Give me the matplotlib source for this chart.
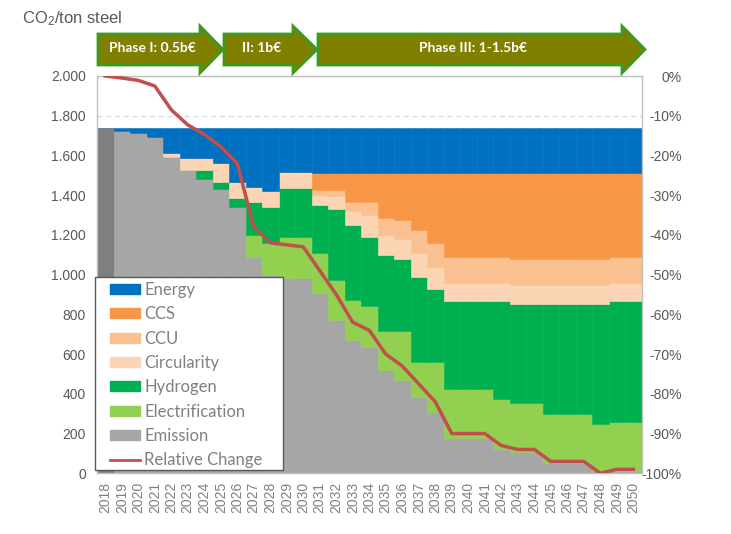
import matplotlib
matplotlib.use("Agg")
import matplotlib.pyplot as plt
import numpy as np
from matplotlib.patches import Polygon, Patch, Rectangle
from matplotlib.lines import Line2D

plt.rcParams["mathtext.default"] = "regular"

years = list(range(2018, 2051))

emission = [1740, 1725, 1715, 1695, 1590, 1527, 1480, 1430, 1339, 1090, 998, 985, 985,
            907, 772, 671, 637, 520, 470, 386, 310, 176, 176, 176, 120, 105, 105,
            50, 50, 50, 10, 10, 10]
electrification = [0, 0, 0, 0, 0, 0, 0, 0, 0, 110, 160, 205, 205,
                   200, 203, 199, 203, 195, 245, 176, 252, 247, 247, 247, 252, 247, 247,
                   248, 248, 248, 238, 250, 250]
hydrogen = [0, 0, 0, 0, 0, 0, 47, 38, 45, 167, 184, 244, 244,
            244, 355, 380, 351, 385, 365, 428, 368, 446, 446, 446, 497, 500, 500,
            554, 554, 554, 604, 609, 609]
circularity = [0, 0, 0, 0, 22, 59, 59, 93, 84, 76, 79, 83, 83,
               49, 65, 70, 109, 100, 100, 120, 110, 91, 91, 91, 91, 96, 96,
               96, 96, 96, 96, 91, 91]
ccu = [0, 0, 0, 0, 0, 0, 0, 0, 0, 0, 0, 0, 0,
       26, 31, 47, 67, 84, 95, 115, 118, 130, 130, 130, 130, 129, 129,
       129, 129, 129, 129, 130, 130]
ccs = [0, 0, 0, 0, 0, 0, 0, 0, 0, 0, 0, 0, 0,
       84, 84, 143, 143, 226, 235, 285, 352, 420, 420, 420, 420, 433, 433,
       433, 433, 433, 433, 420, 420]
energy = [0, 15, 25, 45, 128, 154, 154, 179, 272, 297, 319, 223, 223,
          230, 230, 230, 230, 230, 230, 230, 230, 230, 230, 230, 230, 230, 230,
          230, 230, 230, 230, 230, 230]
rel_change = [0, -0.5, -1.1, -2.5, -8.5, -12.3, -14.7, -17.8, -22, -38, -42, -42.5, -43,
              -49, -55, -62, -64, -70, -73, -77.5, -82, -90, -90, -90, -93, -94, -94,
              -97, -97, -97, -100, -99, -99]

phases = ["Phase I: 0.5b€", "II: 1b€", "Phase III: 1-1.5b€"]

W, H = 731, 534


def px(px_x, px_y):
    return (px_x / W, 1 - px_y / H)


fig = plt.figure(figsize=(W / 100, H / 100), dpi=100)
ax = fig.add_axes([97 / W, 1 - 473.3 / H, 544.5 / W, 397.3 / H])

x = np.arange(len(years))
layers = [
    ("Emission", emission, "#A6A6A6"),
    ("Electrification", electrification, "#92D050"),
    ("Hydrogen", hydrogen, "#00B050"),
    ("Circularity", circularity, "#FCD5B5"),
    ("CCU", ccu, "#FAC090"),
    ("CCS", ccs, "#F79646"),
    ("Energy", energy, "#0070C0"),
]
bottom = np.zeros(len(years))
for name, vals, col in layers:
    cols = [col] * len(x)
    if name == "Emission":
        cols[0] = "#7F7F7F"  # base year
    ax.bar(x, vals, 1.0, bottom=bottom, color=cols, edgecolor=cols, linewidth=0.4, zorder=2)
    bottom += np.array(vals)

ax.set_xlim(-0.5, len(years) - 0.5)
ax.set_ylim(0, 2000)
ax.set_yticks(range(0, 2001, 200))
ax.set_yticklabels([f"{v:,}".replace(",", ".") for v in range(0, 2001, 200)])
ax.set_xticks(x)
ax.set_xticklabels([str(y) for y in years], rotation=90)
ax.grid(axis="y", color="#D9D9D9", linestyle=(0, (4, 3)), linewidth=0.9, zorder=0)
ax.set_axisbelow(True)
ax.tick_params(axis="y", length=0, pad=8, labelsize=10, labelcolor="#595959")
ax.tick_params(axis="x", length=0, pad=6, labelsize=10, labelcolor="#808080")
for lab in ax.get_xticklabels() + ax.get_yticklabels():
    lab.set_fontfamily("Liberation Sans")
for s in ax.spines.values():
    s.set_color("#BFBFBF")
    s.set_linewidth(1)

ax2 = ax.twinx()
ax2.plot(x, rel_change, color="#C0504D", linewidth=2.5, zorder=3)
ax2.set_ylim(-100, 0)
ax2.set_yticks(range(-100, 1, 10))
ax2.set_yticklabels([f"{v}%" for v in range(-100, 1, 10)])
ax2.tick_params(axis="y", length=0, pad=29, labelsize=10, labelcolor="#595959")
for lab in ax2.get_yticklabels():
    lab.set_fontfamily("Liberation Sans")
    lab.set_horizontalalignment("right")
for s in ax2.spines.values():
    s.set_visible(False)

# legend box drawn separately so the padding matches
x0, y0 = px(95, 470)
x1, y1 = px(283, 277)
ax2.add_patch(Rectangle((x0, y0), x1 - x0, y1 - y0, transform=fig.transFigure,
                        facecolor="white", edgecolor="#595959", linewidth=1,
                        clip_on=False, zorder=4))
handles = [Patch(color=c, label=n) for n, _, c in layers[::-1]]
handles.append(Line2D([], [], color="#C0504D", linewidth=2, label="Relative Change"))
leg = ax2.legend(handles=handles, loc="upper left", bbox_to_anchor=px(110, 282),
                 bbox_transform=fig.transFigure, borderaxespad=0, borderpad=0,
                 frameon=False, prop={"family": "Lato", "size": 12},
                 handlelength=1.8, handleheight=0.55, handletextpad=0.25,
                 labelspacing=0.5)
leg.set_zorder(5)
for t in leg.get_texts():
    t.set_color("#808080")

fig.text(22 / W, 1 - 19 / H, "CO$_2$/ton steel", fontsize=12, color="#595959",
         family="Liberation Sans", va="center", ha="left")

# phase arrows (pixel geometry): start, body end, tip
arrows = [(98, 200, 223), (224, 293, 317), (318, 622, 645)]
for (xs, xb, xt), label in zip(arrows, phases):
    pts = [px(xs, 34), px(xb, 34), px(xb, 26), px(xt, 49.5), px(xb, 73),
           px(xb, 65), px(xs, 65)]
    fig.add_artist(Polygon(pts, closed=True, transform=fig.transFigure,
                           facecolor="#7F7F00", edgecolor="#3C9A1E", linewidth=2))
    fig.text(*px((xs + xb) / 2 + 3, 48), label, color="white", fontsize=10,
             fontweight="bold", family="Lato", ha="center", va="center")

fig.savefig("out.png", dpi=100)
